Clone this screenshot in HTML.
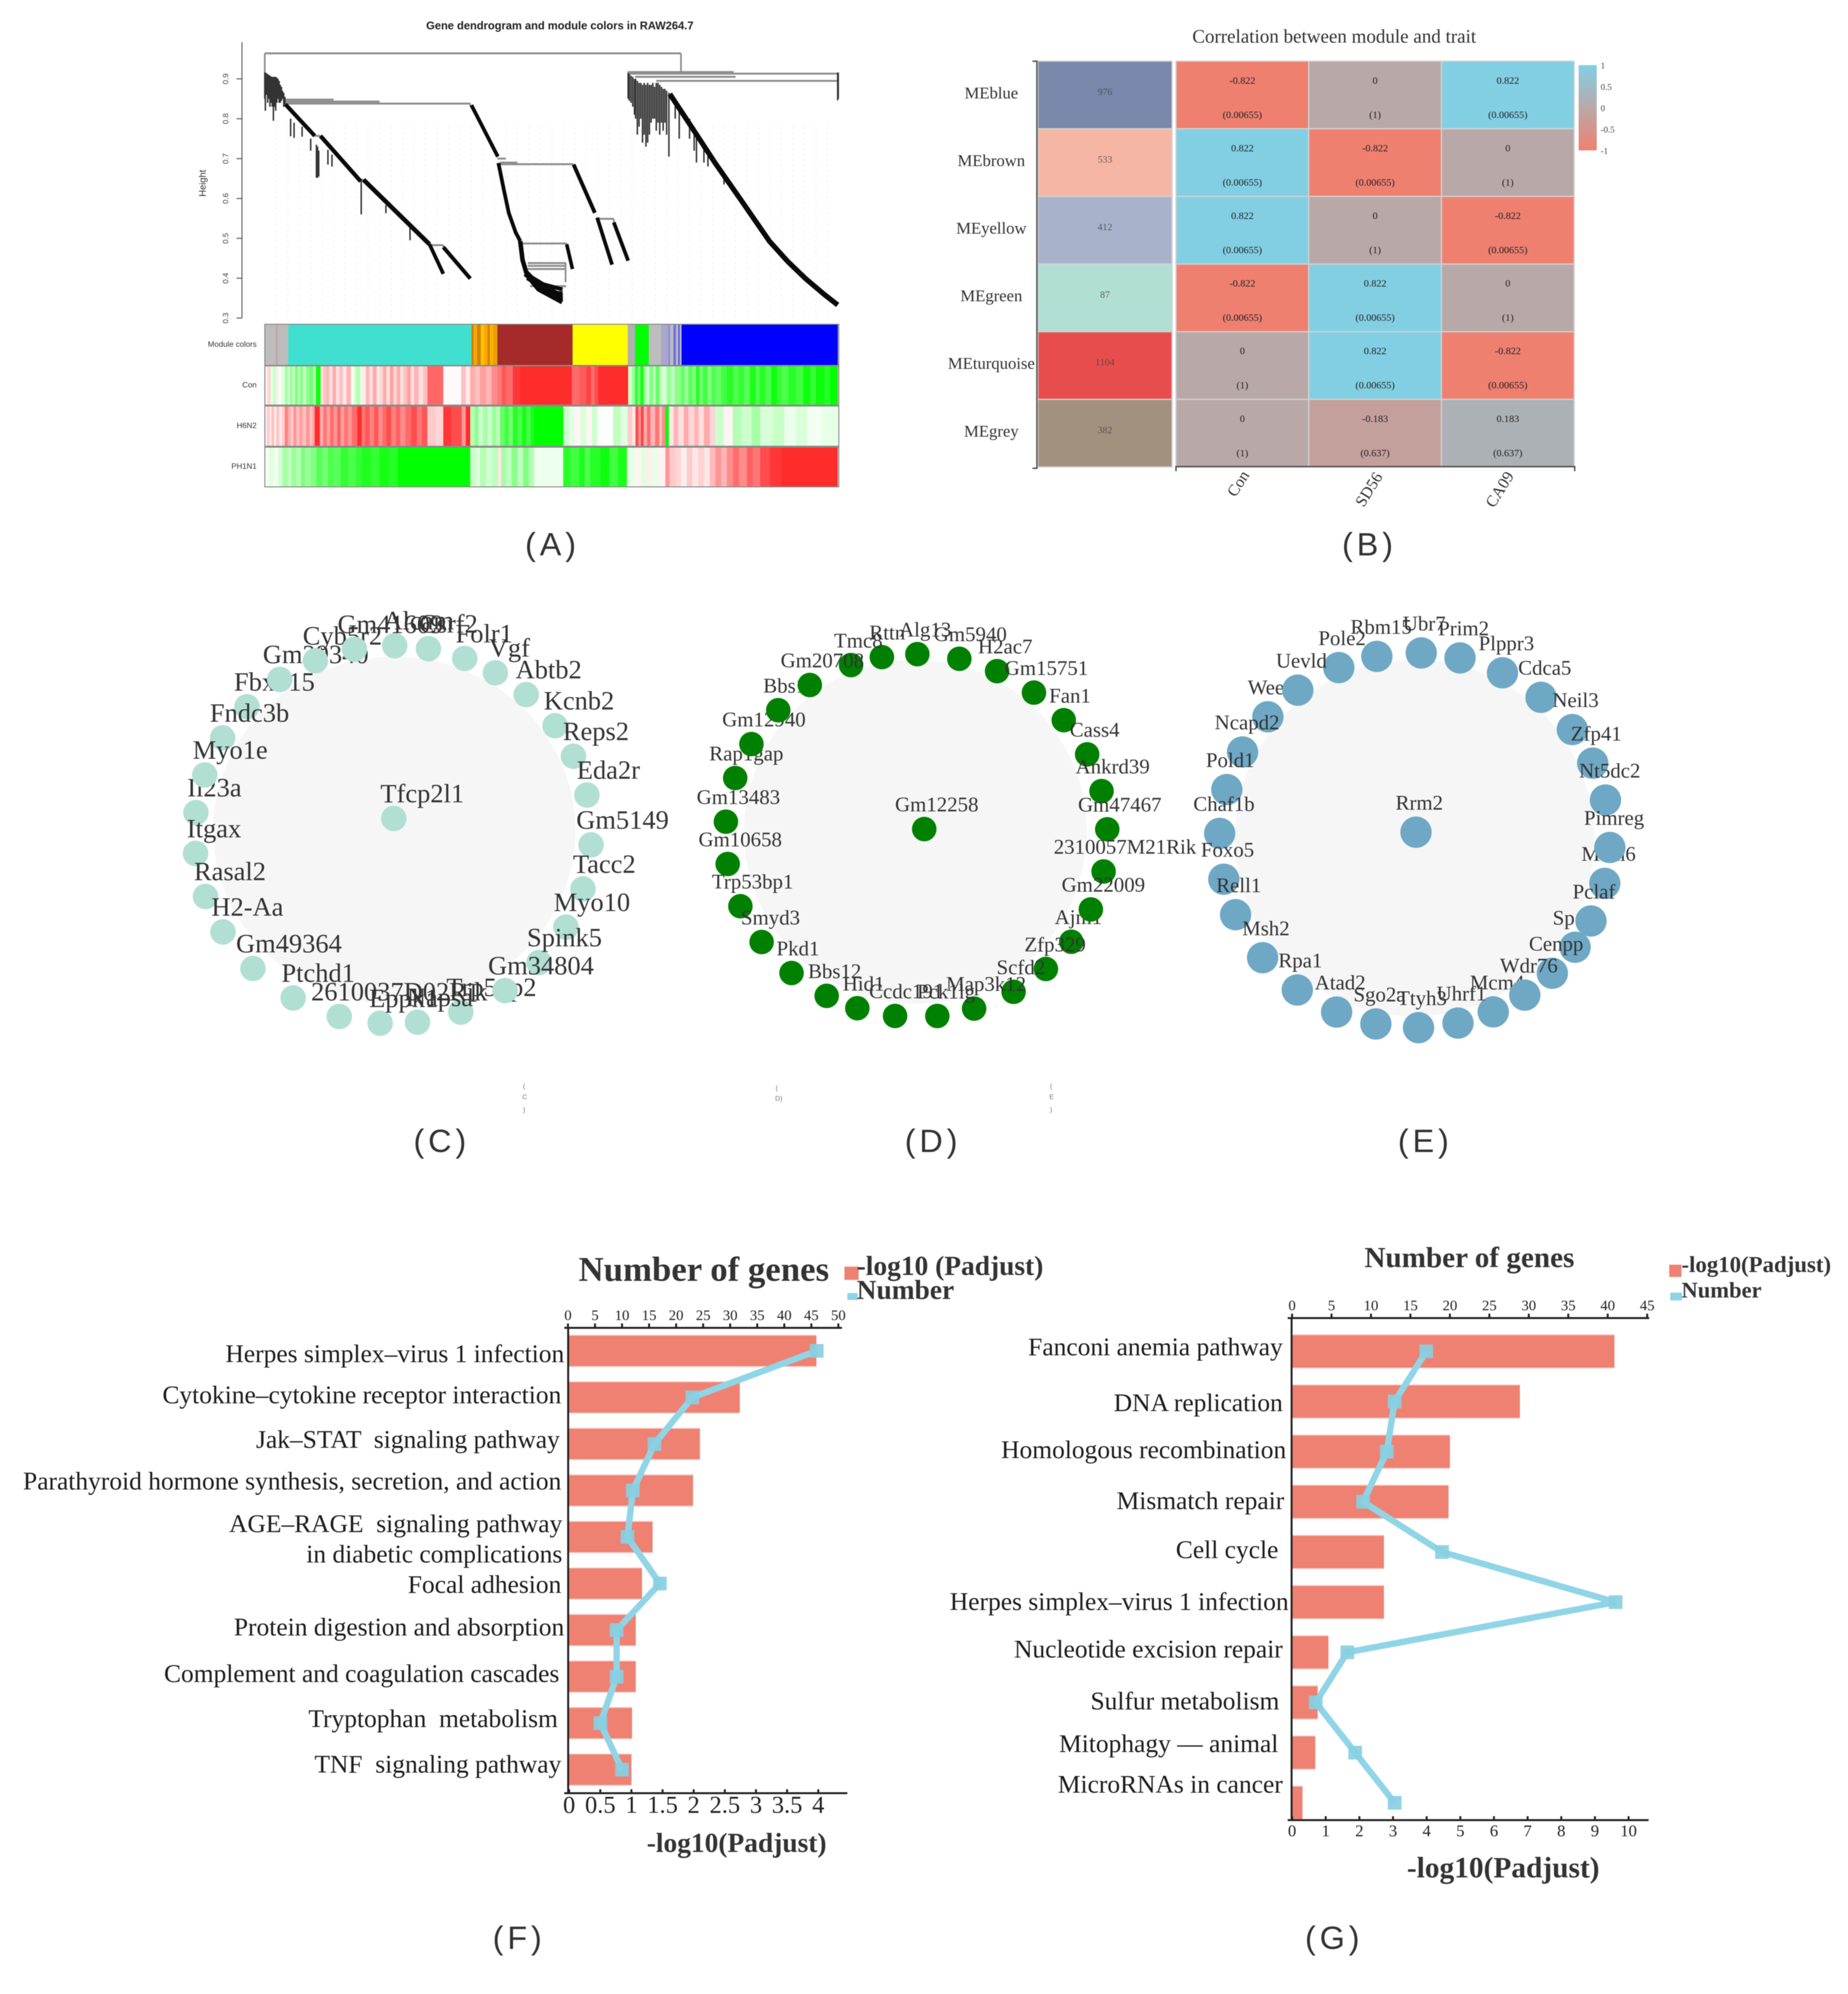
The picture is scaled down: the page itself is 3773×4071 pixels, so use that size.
<!DOCTYPE html>
<html lang="en">
<head>
<meta charset="utf-8">
<title>Co-expression modules, hub gene networks and enrichment</title>
<style>
html,body{margin:0;padding:0;background:#fff;}
svg{display:block;filter:blur(0.8px);}
.serif{font-family:"Liberation Serif",serif;}
.sans{font-family:"Liberation Sans",sans-serif;}
.cat{font-family:"Liberation Serif",serif;font-size:52px;fill:#1c1c1c;text-anchor:end;}
.panel{font-family:"Liberation Sans",sans-serif;font-size:66px;letter-spacing:8px;fill:#333;text-anchor:middle;}
</style>
</head>
<body>
<svg id="fig" xmlns="http://www.w3.org/2000/svg" width="3773" height="4071" viewBox="0 0 3773 4071">
<rect x="0" y="0" width="3773" height="4071" fill="#fff"/>

<g id="panelA">
  <text class="sans" x="1143" y="60" font-size="22.7" font-weight="bold" text-anchor="middle" fill="#222">Gene dendrogram and module colors in RAW264.7</text>
  <text class="sans" font-size="19" fill="#333" text-anchor="middle" transform="translate(420,374) rotate(-90)">Height</text>
  <text class="sans" x="524" y="708" font-size="16" text-anchor="end" fill="#333">Module colors</text>
  <text class="sans" x="524" y="791" font-size="16" text-anchor="end" fill="#333">Con</text>
  <text class="sans" x="524" y="874" font-size="16" text-anchor="end" fill="#333">H6N2</text>
  <text class="sans" x="524" y="957" font-size="16" text-anchor="end" fill="#333">PH1N1</text>
</g>
<g id="panelB">
  <text class="serif" x="2724" y="87" font-size="38.8" text-anchor="middle" fill="#333">Correlation between module and trait</text>
</g>
<g id="panelC"></g>
<g id="panelD">
  <text class="sans" x="1858" y="1745" font-size="12" fill="#555">B</text>
</g>
<g id="panelE"></g>

<g class="sans" font-size="14" fill="#777" text-anchor="middle">
  <text x="1070" y="2222">(</text>
  <text x="1071" y="2244">C</text>
  <text x="1070" y="2270">)</text>
  <text x="1586" y="2226">(</text>
  <text x="1590" y="2247">D)</text>
  <text x="2146" y="2222">(</text>
  <text x="2147" y="2244">E</text>
  <text x="2146" y="2270">)</text>
</g>

<g id="panelF">
  <text class="serif" x="1437" y="2615" font-size="71" font-weight="bold" text-anchor="middle" fill="#333">Number of genes</text>
  <rect x="1724" y="2586" width="29" height="27" fill="#ef8172"/>
  <text class="serif" x="1749" y="2603" font-size="56" font-weight="bold" fill="#333">-log10 (Padjust)</text>
  <rect x="1730" y="2640" width="21" height="14" fill="#8fd3e6"/>
  <text class="serif" x="1749" y="2652" font-size="56" font-weight="bold" fill="#333">Number</text>
  <text class="serif" x="1504" y="3781" font-size="56" font-weight="bold" text-anchor="middle" fill="#333">-log10(Padjust)</text>
  <text class="cat" x="1152" y="2781">Herpes simplex–virus 1 infection</text>
  <text class="cat" x="1146" y="2865">Cytokine–cytokine receptor interaction</text>
  <text class="cat" x="1143" y="2956" xml:space="preserve">Jak–STAT  signaling pathway</text>
  <text class="cat" x="1146" y="3041">Parathyroid hormone synthesis, secretion, and action</text>
  <text class="cat" x="1148" y="3128" xml:space="preserve">AGE–RAGE  signaling pathway</text>
  <text class="cat" x="1148" y="3190">in diabetic complications</text>
  <text class="cat" x="1146" y="3252">Focal adhesion</text>
  <text class="cat" x="1152" y="3339">Protein digestion and absorption</text>
  <text class="cat" x="1142" y="3434">Complement and coagulation cascades</text>
  <text class="cat" x="1139" y="3526" xml:space="preserve">Tryptophan  metabolism</text>
  <text class="cat" x="1146" y="3619" xml:space="preserve">TNF  signaling pathway</text>
</g>

<g id="panelG">
  <text class="serif" x="3000" y="2587" font-size="59.5" font-weight="bold" text-anchor="middle" fill="#333">Number of genes</text>
  <rect x="3408" y="2582" width="25" height="25" fill="#ef8172"/>
  <text class="serif" x="3433" y="2597" font-size="46.6" font-weight="bold" fill="#333">-log10(Padjust)</text>
  <rect x="3410" y="2639" width="24" height="16" fill="#8fd3e6"/>
  <text class="serif" x="3433" y="2649" font-size="46" font-weight="bold" fill="#333">Number</text>
  <text class="serif" x="3069" y="3833" font-size="60" font-weight="bold" text-anchor="middle" fill="#333">-log10(Padjust)</text>
  <text class="cat" x="2619" y="2767">Fanconi anemia pathway</text>
  <text class="cat" x="2619" y="2881">DNA replication</text>
  <text class="cat" x="2626" y="2977">Homologous recombination</text>
  <text class="cat" x="2622" y="3081">Mismatch repair</text>
  <text class="cat" x="2610" y="3181">Cell cycle</text>
  <text class="cat" x="2631" y="3287">Herpes simplex–virus 1 infection</text>
  <text class="cat" x="2619" y="3384">Nucleotide excision repair</text>
  <text class="cat" x="2612" y="3490">Sulfur metabolism</text>
  <text class="cat" x="2610" y="3577">Mitophagy — animal</text>
  <text class="cat" x="2619" y="3660">MicroRNAs in cancer</text>
</g>

<g>
  <text class="panel" x="1128" y="1134">(A)</text>
  <text class="panel" x="2796" y="1134">(B)</text>
  <text class="panel" x="902" y="2352">(C)</text>
  <text class="panel" x="1905" y="2352">(D)</text>
  <text class="panel" x="2910" y="2352">(E)</text>
  <text class="panel" x="1060" y="3979">(F)</text>
  <text class="panel" x="2724" y="3979">(G)</text>
</g>
</svg>

<script>
// ---------- Panel A data: leaf position (0-1000) and merge height ----------
const heightTicks = [0.3,0.4,0.5,0.6,0.7,0.8,0.9];
const dendroLinks = [
  [0,725,0.964],[632,817,0.917],[632,998,0.913],[682,998,0.895],[645,820,0.905],
  [36,358,0.838],[36,200,0.843],[36,120,0.848],[410,538,0.686],[410,440,0.69],[405,420,0.7],
  [445,526,0.487],[458,525,0.438],[458,525,0.431],[458,525,0.423],[462,525,0.38],
  [579,608,0.549],[287,311,0.483],[87,97,0.757],[167,172,0.647]
];
const dendroDrops = [
  [0,0.964,0.912],[725,0.964,0.917],[358,0.838,0.83],[538,0.686,0.68],
  [526,0.487,0.48],[524,0.438,0.39],[518,0.38,0.345],[608,0.549,0.54],[311,0.483,0.478]
];
const dendroBranches = [
  [[36,0.836],[87,0.757]],
  [[97,0.757],[167,0.643]],
  [[172,0.647],[287,0.485]],
  [[287,0.485],[311,0.411]],
  [[311,0.478],[358,0.399]],
  [[360,0.834],[406,0.705]],
  [[407,0.689],[416,0.625],[425,0.564],[437,0.515],[445,0.493]],
  [[445,0.493],[449,0.446],[457,0.407],[477,0.372],[518,0.340]],
  [[453,0.42],[472,0.392],[518,0.356]],
  [[462,0.405],[485,0.385],[518,0.372]],
  [[453,0.41],[478,0.38],[518,0.345]],
  [[457,0.4],[490,0.372],[518,0.35]],
  [[465,0.39],[500,0.365],[518,0.362]],
  [[538,0.685],[575,0.564]],
  [[579,0.552],[605,0.434]],
  [[608,0.540],[633,0.444]],
  [[526,0.485],[536,0.423]],
  [[705.6,0.862],[745,0.776],[784.5,0.689],[832,0.591],[879,0.493],[911,0.442],[942,0.399],[974,0.360],[998,0.333]]
];
const dendroBranchGenes = [60,80,150,25,45,25,30,160,60,40,40,40,30,40,25,25,12,345];
const dendroSpikes = [
  [0,0.916,0.85],[1,0.916,0.82],[3,0.914,0.86],[5,0.912,0.84],[7,0.91,0.85],[9,0.908,0.83],[11,0.906,0.84],
  [13,0.905,0.83],[15,0.905,0.795],[17,0.905,0.83],[19,0.905,0.82],[21,0.903,0.84],[23,0.9,0.85],[25,0.895,0.84],
  [27,0.885,0.84],[29,0.88,0.845],[31,0.87,0.85],[33,0.865,0.83],[35,0.855,0.835],
  [45,0.80,0.756],[51,0.79,0.752],[65,0.78,0.755],[80,0.75,0.72],[90,0.735,0.652],[92,0.73,0.652],[94,0.72,0.655],
  [110,0.722,0.685],[117,0.71,0.68],[168,0.645,0.56],[211,0.583,0.563],[253,0.53,0.495],
  [633,0.915,0.85],[635,0.912,0.845],[638,0.908,0.84],[641,0.905,0.83],[644,0.9,0.81],[646,0.9,0.8],[649,0.895,0.76],[652,0.89,0.78],
  [655,0.89,0.8],[658,0.885,0.74],[661,0.89,0.76],[664,0.885,0.73],[667,0.89,0.74],[670,0.885,0.76],[673,0.885,0.79],[676,0.89,0.8],[679,0.88,0.80],[682,0.89,0.77],
  [685,0.89,0.79],[688,0.885,0.76],[691,0.88,0.79],[694,0.875,0.77],[697,0.875,0.79],[700,0.87,0.76],[704,0.865,0.705],[715,0.84,0.8],[722,0.83,0.75],
  [740,0.80,0.75],[748,0.77,0.72],[752,0.76,0.69],[765,0.74,0.69],[772,0.72,0.68],[800,0.66,0.635],[998,0.916,0.846],[999,0.916,0.85]
];
const moduleStrip = [
  [20,'#bdbdbd'],[22,'#c69a9a'],[41,'#bdbdbd'],[360,'#40e0d0'],[364,'#c8860a'],[370,'#ffa500'],[376,'#c8860a'],
  [382,'#ffc000'],[388,'#ffa500'],[392,'#c8860a'],[398,'#ffb000'],[405,'#e8a000'],[536,'#a52a2a'],[632,'#ffff00'],
  [645,'#b0b0b0'],[669,'#00ff00'],[690,'#bdbdbd'],[703,'#a8a8c8'],[706,'#8888ee'],[712,'#bdbdbd'],[716,'#6e6ee8'],
  [720,'#bdbdbd'],[723,'#6060f0'],[726,'#bdbdbd'],[998,'#0000ff'],[1000,'#bdbdbd']
];
const conTrait = [
  [5,0.1],[10,0.2],[14,-0.1],[20,-0.2],[24,0.08],[28,0.02],[35,-0.12],[40,-0.35],[44,-0.2],[48,-0.4],[53,-0.25],[57,-0.5],
  [62,-0.3],[66,-0.5],[72,-0.25],[78,-0.45],[84,-0.55],[89,-0.3],[97,-0.95],[102,0.15],[108,0.28],[112,0.35],[118,0.15],
  [124,0.4],[130,0.15],[136,0.3],[142,0.1],[150,0.35],[156,-0.05],[160,-0.2],[166,-0.3],[170,-0.1],[176,0.1],[182,0.35],
  [188,0.15],[195,0.4],[200,0.1],[206,0.2],[212,0.4],[218,0.15],[224,0.45],[230,0.2],[236,0.4],[242,0.15],[248,0.3],
  [254,0.45],[260,0.15],[268,0.35],[276,0.15],[283,0.3],[311,0.72],[342,0.03],[350,0.3],[358,0.1],[366,0.4],[375,0.3],
  [385,0.45],[395,0.35],[405,0.55],[413,0.65],[420,0.8],[432,0.7],[445,0.95],[535,1],[548,0.7],[560,0.78],[568,0.9],
  [575,0.7],[581,0.85],[633,1],[640,-0.2],[645,-0.4],[650,-0.8],[654,-0.5],[660,-0.9],[664,-0.4],[670,-0.2],[676,-0.5],
  [681,-0.25],[687,-0.6],[692,-0.3],[700,-0.15],[708,-0.4],[714,-0.25],[725,-0.45],[731,-0.6],[738,-0.4],[745,-0.65],
  [751,-0.5],[757,-0.85],[763,-0.55],[771,-0.75],[778,-0.5],[785,-0.7],[795,-0.6],[805,-0.75],[815,-0.85],[825,-0.7],
  [835,-0.8],[845,-0.65],[855,-0.9],[862,-0.7],[872,-0.85],[882,-0.7],[892,-0.95],[900,-0.8],[912,-0.7],[925,-0.85],
  [938,-0.75],[950,-0.95],[960,-0.8],[975,-0.95],[985,-0.85],[998,-1],[1000,0.3]
];
const h6n2Trait = [
  [4,0.1],[8,0.25],[12,0.12],[16,0.3],[20,0.08],[25,0.28],[30,0.1],[35,0.25],[40,0.6],[45,0.4],[50,0.25],[55,0.5],[60,0.3],
  [66,0.45],[72,0.3],[78,0.5],[83,0.3],[87,0.45],[96,1],[102,0.4],[108,0.65],[114,0.45],[120,0.7],[126,0.5],[132,0.75],
  [138,0.45],[145,0.65],[152,0.5],[161,0.7],[169,1],[175,0.65],[182,0.8],[190,0.6],[198,0.8],[205,0.55],[212,0.7],[220,0.85],
  [228,0.6],[236,0.75],[245,0.55],[255,0.7],[265,0.85],[274,0.65],[283,0.8],[297,0.25],[311,0.2],[325,0.95],[343,0.85],
  [350,0.5],[358,1],[366,-0.3],[372,-0.45],[380,-0.2],[388,-0.35],[396,-0.2],[403,-0.4],[410,-0.25],[418,-0.6],[425,-0.75],
  [432,-0.55],[440,-0.85],[448,-0.7],[456,-0.9],[463,-0.7],[469,-0.9],[520,-1],[530,-0.2],[540,-0.1],[550,0.05],[560,-0.15],
  [570,0.05],[579,-0.2],[590,-0.02],[607,0],[620,-0.25],[632,-0.12],[640,0.25],[646,0.12],[651,0.85],[655,0.5],[660,0.9],
  [666,0.4],[672,0.7],[680,0.35],[687,0.65],[692,0.3],[698,0.55],[704,-1],[712,0.1],[720,0.35],[730,0.15],[738,0.4],[748,0.2],
  [756,0.35],[765,0.15],[775,0.4],[785,0.2],[800,-0.2],[815,0.05],[830,-0.3],[848,-0.2],[863,-0.35],[885,-0.15],[905,-0.22],
  [925,-0.08],[945,-0.15],[970,-0.05],[1000,-0.1]
];
const ph1n1Trait = [
  [8,-0.05],[15,-0.12],[24,-0.06],[31,-0.18],[40,-0.35],[47,-0.25],[55,-0.4],[63,-0.3],[70,-0.5],[80,-0.4],[90,-0.5],[100,-0.65],
  [110,-0.55],[120,-0.7],[132,-0.65],[145,-0.8],[158,-0.7],[169,-0.8],[185,-0.88],[200,-0.8],[216,-0.92],[232,-0.85],[358,-1],
  [368,-0.2],[375,-0.12],[385,-0.3],[395,-0.18],[406,-0.25],[412,0.12],[420,-0.35],[430,-0.25],[440,-0.45],[450,-0.25],[460,-0.5],
  [469,-0.3],[520,-0.07],[532,-0.85],[548,-0.75],[557,-0.9],[567,-0.7],[585,-0.85],[600,-0.95],[615,-0.75],[631,-0.9],[645,-0.1],
  [655,0.05],[665,-0.12],[675,0.08],[685,-0.1],[698,0.06],[705,0.5],[715,0.25],[725,0.2],[735,0.08],[745,0.25],[755,0.12],[765,0.22],
  [775,0.12],[785,0.32],[795,0.5],[805,0.35],[816,0.55],[826,0.7],[840,0.55],[850,0.75],[863,0.65],[880,0.85],[900,0.95],[998,1],[1000,0.1]
];

// ---------- Panel B data ----------
const moduleNames = ['MEblue','MEbrown','MEyellow','MEgreen','MEturquoise','MEgrey'];
const moduleCounts = [976,533,412,87,1104,382];
const moduleFills = ['#7a88ab','#f6b6a5','#a8b2cb','#b2dfd3','#e84d4e','#a39180'];
const traitNames = ['Con','SD56','CA09'];
const corrValues = [
  [-0.822,0,0.822],
  [0.822,-0.822,0],
  [0.822,0,-0.822],
  [-0.822,0.822,0],
  [0,0.822,-0.822],
  [0,-0.183,0.183]
];
const corrPValues = [
  ['0.00655','1','0.00655'],
  ['0.00655','0.00655','1'],
  ['0.00655','1','0.00655'],
  ['0.00655','0.00655','1'],
  ['1','0.00655','0.00655'],
  ['1','0.637','0.637']
];
const legendTicks = [1,0.5,0,-0.5,-1];

// ---------- Network data: gene labels and ring angle (degrees clockwise from top) ----------
const netCHub = 'Tfcp2l1';
const netCLabels = ['Alcam','Csrf2','Folr1','Vgf','Abtb2','Kcnb2','Reps2','Eda2r','Gm5149','Tacc2','Myo10','Spink5','Gm34804','Trp5np2','Napsa','Eppk1','2610037D02Rik','Ptchd1','Gm49364','H2-Aa','Rasal2','Itgax','Il23a','Myo1e','Fndc3b','Fbxo15','Gm29340','Cyb5r2','Gm41609'];
const netCAngles = [0.5,10.3,21.2,31.1,42.2,54.8,65.5,77.9,93.1,106.7,119.3,132.6,145.6,160,172.9,183.7,195.7,210.2,224.9,239,250.9,264.3,276.7,288.4,300.8,312.6,325.2,337,348.8];
const netDHub = 'Gm12258';
const netDLabels = ['Alg13','Gm5940','H2ac7','Gm15751','Fan1','Cass4','Ankrd39','Gm47467','2310057M21Rik','Gm22009','Ajm1','Zfp329','Scfd2','Map3k12','Pck1lg','Ccdc191','Hid1','Bbs12','Pkd1','Smyd3','Trp53bp1','Gm10658','Gm13483','Rap1gap','Gm12940','Bbs1','Gm20708','Tmc8','Rttn'];
const netDAngles = [0.3,13,25,38,50.5,63.4,75.8,88,101.4,114,125.8,137.3,149.4,162.4,173.7,186.4,198,208,220.8,234.1,247.1,261,274.4,288.5,300.3,313.7,326.1,340,349.6];
const netEHub = 'Rrm2';
const netELabels = ['Ubr7','Prim2','Plppr3','Cdca5','Neil3','Zfp41','Nt5dc2','Pimreg','Mcm6','Pclaf','Spc24','Cenpp','Wdr76','Mcm4','Uhrf1','Ttyh3','Sgo2a','Atad2','Rpa1','Msh2','Rell1','Foxo5','Chaf1b','Pold1','Ncapd2','Wee1','Uevld','Pole2','Rbm15'];
const netEAngles = [1.9,13.4,26.7,40.3,53.8,65.7,77.6,92.2,103.3,115.5,124.8,135.2,145.7,156.3,167.2,178.9,191.5,203.6,217,231.2,246.6,258,272.1,285.7,298.1,311.2,323.2,337.1,348.8];

// ---------- Panel F data ----------
const fPadjust = [3.97,2.74,2.10,1.99,1.34,1.17,1.07,1.07,1.01,1.00];
const fNumber = [46,23,16,12,11,17,9,9,6,10];
const fNumberTicks = [0,5,10,15,20,25,30,35,40,45,50];
const fPadjustTicks = [0,0.5,1,1.5,2,2.5,3,3.5,4];

// ---------- Panel G data ----------
const gPadjust = [9.58,6.77,4.69,4.65,2.73,2.73,1.08,0.76,0.69,0.31];
const gNumber = [17,13,12,9,19,41,7,3,8,13];
const gNumberTicks = [0,5,10,15,20,25,30,35,40,45];
const gPadjustTicks = [0,1,2,3,4,5,6,7,8,9,10];

// ---------- helpers ----------
const NS = 'http://www.w3.org/2000/svg';
function mk(tag, attrs, parent, text){
  const el = document.createElementNS(NS, tag);
  for (const k in attrs) el.setAttribute(k, attrs[k]);
  if (text !== undefined) el.textContent = text;
  parent.appendChild(el);
  return el;
}
function hexToRgb(h){return [parseInt(h.slice(1,3),16),parseInt(h.slice(3,5),16),parseInt(h.slice(5,7),16)];}
function mix(a,b,t){
  const A=hexToRgb(a),B=hexToRgb(b);
  return 'rgb('+A.map((v,i)=>Math.round(v+(B[i]-v)*t)).join(',')+')';
}

// ---------- Panel A ----------
(function(){
  const g = document.getElementById('panelA');
  const xGene = v => 540.6 + v * 1.172;
  const yH = v => 161 + (0.9 - v) * 814;

  const axis = mk('line',{x1:494,x2:494,y1:86,y2:yH(0.3),stroke:'#555','stroke-width':2},g);
  
  
  heightTicks.forEach(t=>{
    const tick = mk('line',{x1:483,x2:494,y1:yH(t),y2:yH(t),stroke:'#555','stroke-width':2},g);
    
    
    const lab = mk('text',{'class':'sans','font-size':16,fill:'#444','text-anchor':'middle',transform:'translate(466,'+yH(t)+') rotate(-90)'},g,t.toFixed(1));
    
    
  });

  for(let leaf=20;leaf<1000;leaf+=20){
    const guide = mk('line',{x1:xGene(leaf),x2:xGene(leaf),y1:yH(0.78),y2:yH(0.3),stroke:'#eeeeee','stroke-width':1.5,'stroke-dasharray':'5 6'},g);
    
    
  }
  dendroLinks.forEach(l=>{
    const link = mk('line',{x1:xGene(l[0]),x2:xGene(l[1]),y1:yH(l[2]),y2:yH(l[2]),stroke:'#8e8e8e','stroke-width':4},g);
    
    
  });
  dendroDrops.forEach(l=>{
    const drop = mk('line',{x1:xGene(l[0]),x2:xGene(l[0]),y1:yH(l[1]),y2:yH(l[2]),stroke:'#8e8e8e','stroke-width':3.5},g);
    
    
  });
  dendroSpikes.forEach(s=>{
    const spike = mk('line',{x1:xGene(s[0]),x2:xGene(s[0]),y1:yH(s[1]),y2:yH(s[2]),stroke:'#333333','stroke-width':3},g);
    
    
  });
  dendroBranches.forEach((b,i)=>{
    const w = 6.5 + Math.sqrt(dendroBranchGenes[i]) * 0.22;
    const pts = b.map(p=>xGene(p[0])+','+yH(p[1])).join(' ');
    const branch = mk('polyline',{points:pts,fill:'none',stroke:'#0a0a0a','stroke-width':w,'stroke-linejoin':'round'},g);
    
    
  });

  function strip(y0,y1,segments,colour,name){
    let start = 0;
    segments.forEach(s=>{
      const seg = mk('rect',{x:xGene(start),y:y0,width:xGene(s[0])-xGene(start)+0.5,height:y1-y0,fill:colour(s[1]),'shape-rendering':'crispEdges'},g);
      
      
      start = s[0];
    });
    const frame = mk('rect',{x:xGene(0),y:y0,width:xGene(1000)-xGene(0),height:y1-y0,fill:'none',stroke:'#8a8a8a','stroke-width':2},g);
    
    
  }
  const trait = v => v >= 0 ? mix('#ffffff','#ff2c2c',v) : mix('#ffffff','#00ff00',-v);
  strip(662,746,moduleStrip,c=>c,'module-color-strip');
  strip(747,827,conTrait,trait,'con-trait-strip');
  strip(829,911,h6n2Trait,trait,'h6n2-trait-strip');
  strip(913,994,ph1n1Trait,trait,'ph1n1-trait-strip');
})();

// ---------- Panel B ----------
(function(){
  const g = document.getElementById('panelB');
  const rowH = 138.1, colW = 271, top = 124.8, gridX = 2401;
  const yRow = i => top + i * rowH;
  const xCol = j => gridX + j * colW;
  const corrColour = v => v >= 0 ? mix('#b8a9a8','#82cfe3',Math.min(1,v/0.822)) : mix('#b8a9a8','#ef8070',Math.min(1,-v/0.822));

  moduleNames.forEach((name,i)=>{
    const lab = mk('text',{'class':'serif',x:2024,y:yRow(i)+76,'font-size':34,'text-anchor':'middle',fill:'#333'},g,name);
    
    
    const sw = mk('rect',{x:2119,y:yRow(i),width:274,height:rowH,fill:moduleFills[i],stroke:'#d2d2d2','stroke-width':2.5},g);
    
    
    const cnt = mk('text',{'class':'serif',x:2256,y:yRow(i)+69,'font-size':20,'text-anchor':'middle',fill:'#444','fill-opacity':0.8},g,moduleCounts[i]);
    
    
    traitNames.forEach((t,j)=>{
      const v = corrValues[i][j];
      const cell = mk('rect',{x:xCol(j),y:yRow(i),width:colW,height:rowH,fill:corrColour(v),stroke:'#d2d2d2','stroke-width':2.5},g);
      
      
      const a = mk('text',{'class':'serif',x:xCol(j)+colW/2,y:yRow(i)+46,'font-size':20.5,'text-anchor':'middle',fill:'#222'},g,String(v));
      
      
      const b = mk('text',{'class':'serif',x:xCol(j)+colW/2,y:yRow(i)+116,'font-size':20.5,'text-anchor':'middle',fill:'#222'},g,'('+corrPValues[i][j]+')');
      
      
    });
  });

  const leftAxis = mk('path',{d:'M2108 125H2117V956H2108',fill:'none',stroke:'#555','stroke-width':3},g);
  
  
  const bottomAxis = mk('path',{d:'M2401 962V952.6H3215V962',fill:'none',stroke:'#555','stroke-width':3},g);
  
  

  traitNames.forEach((t,j)=>{
    const lab = mk('text',{'class':'serif','font-size':33,'text-anchor':'middle',fill:'#333',transform:'translate('+(xCol(j)+136-4*j)+','+(j===0?993:1005)+') rotate(-58)'},g,t);
    
    
  });

  const defs = mk('defs',{},g);
  const grad = mk('linearGradient',{id:'corrGrad',x1:0,y1:0,x2:0,y2:1},defs);
  mk('stop',{offset:'0%','stop-color':'#82cfe3'},grad);
  mk('stop',{offset:'50%','stop-color':'#b8a9a8'},grad);
  mk('stop',{offset:'100%','stop-color':'#ef8070'},grad);
  const bar = mk('rect',{x:3223,y:133,width:37,height:174,fill:'url(#corrGrad)'},g);
  
  
  legendTicks.forEach(t=>{
    const y = 221 - t * 87;
    const lab = mk('text',{'class':'serif',x:3268,y:y+6,'font-size':18,fill:'#444'},g,String(t));
    
    
  });
})();

// ---------- Networks ----------
function drawNetwork(cfg){
  const g = document.getElementById(cfg.id);
  const disc = mk('ellipse',{cx:cfg.disc[0],cy:cfg.disc[1],rx:cfg.disc[2],ry:cfg.disc[3],fill:'#f6f6f6'},g);
  
  
  const xy = a => {
    const t = a * Math.PI / 180;
    return [cfg.cx + cfg.rx * Math.sin(t), cfg.cy - cfg.ry * Math.cos(t)];
  };
  const nodes = cfg.labels.map((l,i)=>({label:l,pos:xy(cfg.angles[i])}));
  nodes.push({label:cfg.hub,pos:cfg.hubPos});
  const behindLayer = mk('g',{},g);
  const nodeLayer = mk('g',{},g);
  const labelLayer = mk('g',{},g);
  nodes.forEach(n=>{
    const c = mk('circle',{cx:n.pos[0],cy:n.pos[1],r:cfg.r,fill:cfg.colour},nodeLayer);
    
    
    const layer = cfg.behind.includes(n.label) ? behindLayer : labelLayer;
    const t = mk('text',{'class':'serif','font-size':cfg.font,fill:'#333',x:n.pos[0],y:n.pos[1]-cfg.baseline},layer,n.label);
    
    
    t.setAttribute('x', n.pos[0] - cfg.anchor * t.getComputedTextLength());
  });
}
drawNetwork({id:'panelC',labels:netCLabels,angles:netCAngles,hub:netCHub,hubPos:[804,1671],cx:802.3,cy:1704,rx:405,ry:385.8,r:26,
  colour:'#b2dfd3',font:54,baseline:33,anchor:0.16,disc:[805,1695,370,354],behind:['Fbxo15','Gm29340','Cyb5r2','Trp5np2','Il23a']});
drawNetwork({id:'panelD',labels:netDLabels,angles:netDAngles,hub:netDHub,hubPos:[1887,1692.6],cx:1870.9,cy:1706,rx:390,ry:370.5,r:25,
  colour:'#008000',font:42.6,baseline:36,anchor:0.35,disc:[1869,1698,350,351],behind:['Bbs1','Ajm1','Gm12940','Rap1gap']});
drawNetwork({id:'panelE',labels:netELabels,angles:netEAngles,hub:netEHub,hubPos:[2891,1699],cx:2888.5,cy:1715.5,rx:398.6,ry:382.7,r:32,
  colour:'#6fa8c5',font:42.5,baseline:46,anchor:0.43,disc:[2888,1711,367,364],behind:['Wee1','Spc24','Mcm6','Mcm4']});

// ---------- Bar + line charts ----------
function drawBarLine(cfg){
  const g = document.getElementById(cfg.id);
  cfg.bars.forEach((v,i)=>{
    const halo = mk('rect',{x:cfg.xBar(0),y:cfg.yBand(i)-cfg.barH/2-2,width:cfg.xBar(v)-cfg.xBar(0),height:cfg.barH+4,fill:'#f9cfc8'},g);
    
    
    const bar = mk('rect',{x:cfg.xBar(0),y:cfg.yBand(i)-cfg.barH/2,width:cfg.xBar(v)-cfg.xBar(0),height:cfg.barH,fill:'#ef8172'},g);
    
    
  });
  const axisStyle = {stroke:'#222','stroke-width':4,fill:'none'};
  const topAxis = mk('line',Object.assign({x1:cfg.axisL,x2:cfg.axisR,y1:cfg.top,y2:cfg.top},axisStyle),g);
  
  
  const botAxis = mk('line',Object.assign({x1:cfg.axisL,x2:cfg.axisR2,y1:cfg.bottom,y2:cfg.bottom},axisStyle),g);
  
  
  const leftAxis = mk('line',Object.assign({x1:cfg.xLeft,x2:cfg.xLeft,y1:cfg.top,y2:cfg.bottom},axisStyle),g);
  
  

  cfg.numTicks.forEach(t=>{
    const tick = mk('line',Object.assign({x1:cfg.xNum(t),x2:cfg.xNum(t),y1:cfg.top,y2:cfg.top-9},axisStyle),g);
    
    
    const lab = mk('text',{'class':'serif',x:cfg.xNum(t),y:cfg.top-16,'font-size':cfg.numFont,'text-anchor':'middle',fill:'#222'},g,String(t));
    
    
  });
  cfg.barTicks.forEach(t=>{
    const tick = mk('line',Object.assign({x1:cfg.xBar(t),x2:cfg.xBar(t),y1:cfg.bottom,y2:cfg.bottom-8},axisStyle),g);
    
    
    const lab = mk('text',{'class':'serif',x:cfg.xBar(t),y:cfg.bottom+cfg.barTickDy,'font-size':cfg.barFont,'text-anchor':'middle',fill:'#222'},g,String(t));
    
    
  });

  const pts = cfg.line.map((v,i)=>cfg.xNum(v)+','+cfg.yBand(i)).join(' ');
  const line = mk('polyline',{points:pts,fill:'none',stroke:'#90d5e6','stroke-width':13,'stroke-linejoin':'miter'},g);
  
  
  cfg.line.forEach((v,i)=>{
    const p = mk('rect',{x:cfg.xNum(v)-14,y:cfg.yBand(i)-14,width:28,height:28,fill:'#88cfe2','fill-opacity':0.92},g);
    
    
  });
}
drawBarLine({id:'panelF',bars:fPadjust,line:fNumber,numTicks:fNumberTicks,barTicks:fPadjustTicks,
  xBar:v=>1162+v*127.15,xNum:v=>1159.6+v*11.04,yBand:i=>2758+i*95,barH:62,
  top:2711,bottom:3661,xLeft:1160,axisL:1152,axisR:1719,axisR2:1730,numFont:30,barFont:50,barTickDy:40});
drawBarLine({id:'panelG',bars:gPadjust,line:gNumber,numTicks:gNumberTicks,barTicks:gPadjustTicks,
  xBar:v=>2638+v*68.7,xNum:v=>2638+v*16.11,yBand:i=>2759+i*102.4,barH:66,
  top:2691,bottom:3716,xLeft:2637,axisL:2629,axisR:3367,axisR2:3366,numFont:30,barFont:34,barTickDy:33});
</script>
</body>
</html>
